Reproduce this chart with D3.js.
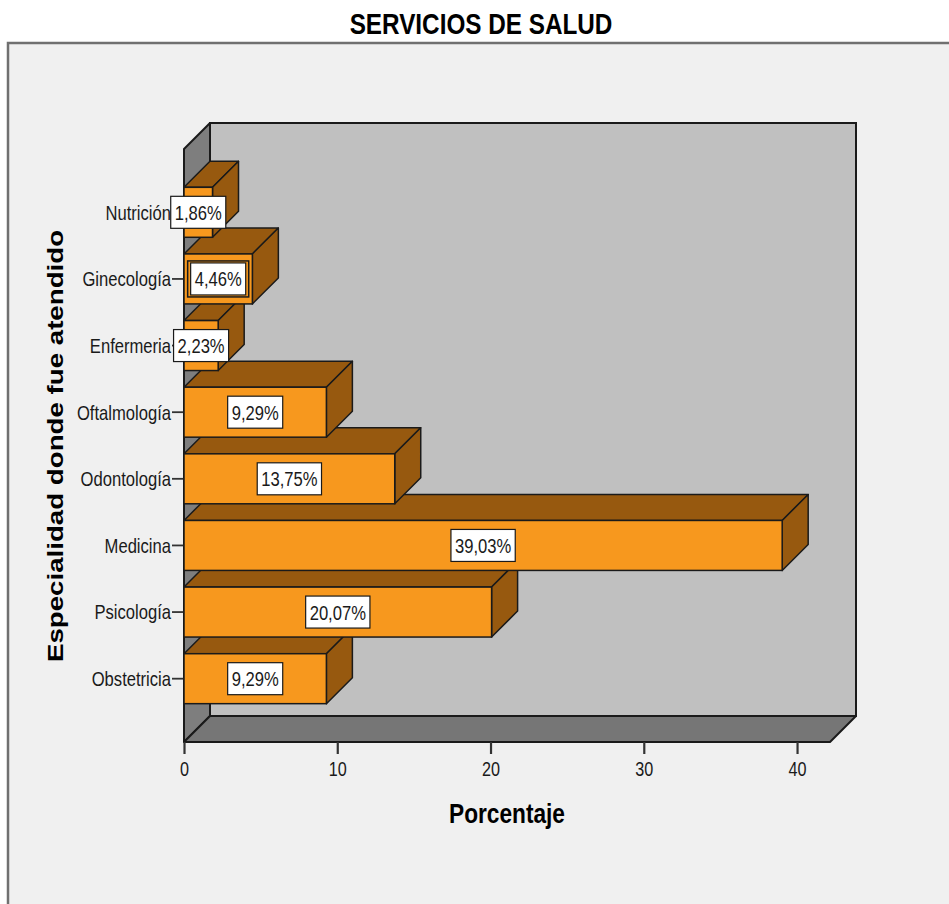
<!DOCTYPE html>
<html>
<head>
<meta charset="utf-8">
<script src="https://cdn.jsdelivr.net/npm/d3@7"></script>
<style>
  html, body { margin: 0; padding: 0; background: #ffffff; }
  svg { display: block; }
  text { font-family: "Liberation Sans", Arial, sans-serif; fill: #1a1a1a; }
</style>
</head>
<body>
<svg id="chart" width="949" height="904"></svg>
<script>
// Servicios de salud: porcentaje de atenciones por especialidad
const categories = ["Nutrición", "Ginecología", "Enfermeria", "Oftalmología",
                    "Odontología", "Medicina", "Psicología", "Obstetricia"];
const percentages = [1.86, 4.46, 2.23, 9.29, 13.75, 39.03, 20.07, 9.29];
const valueLabels = ["1,86%", "4,46%", "2,23%", "9,29%", "13,75%", "39,03%", "20,07%", "9,29%"];
const xTickValues = [0, 10, 20, 30, 40];
const highlighted = ["Ginecología"];

const chartTitle = "SERVICIOS DE SALUD";
const xTitle = "Porcentaje";
const yTitle = "Especialidad donde fue atendido";

const data = categories.map((c, i) => ({ cat: c, value: percentages[i], label: valueLabels[i] }));

const svg = d3.select("#chart");
const W = 949, H = 904;

// narrow text rendering (condensed glyphs)
const SX = 0.81;

// colours
const ORANGE = "#F7981E", BROWN = "#97590F";
const WALL_BACK = "#C0C0C0", WALL_SIDE = "#7E7E7E", FLOOR = "#767676";
const INK = "#1a1a1a";

// front plane of the 3D box
const plotLeft = 184, plotRight = 830, plotTop = 149, plotBottom = 742;
const D = 26; // depth offset (right / up)

const x = d3.scaleLinear().domain([0, 42.15]).range([plotLeft, plotRight]);
const y = d3.scaleBand().domain(categories).range([179, 712])
  .paddingInner(0.25).paddingOuter(0.125);

// chart frame
svg.append("rect").attr("x", 8).attr("y", 42).attr("width", W - 8).attr("height", H - 42)
  .attr("fill", "#F0F0F0");
svg.append("path")
  .attr("d", `M8,${H} L8,43 L${W},43`)
  .attr("fill", "none").attr("stroke", "#707070").attr("stroke-width", 2.5);

// title
svg.append("text")
  .attr("transform", `translate(481,34) scale(${SX},1)`)
  .attr("text-anchor", "middle")
  .style("font-size", "30px").style("font-weight", "bold").style("fill", "#000")
  .text(chartTitle);

const pt = p => p.map(d => d.join(",")).join(" ");

// back wall
svg.append("rect")
  .attr("x", plotLeft + D).attr("y", plotTop - D)
  .attr("width", plotRight - plotLeft).attr("height", plotBottom - plotTop)
  .attr("fill", WALL_BACK).attr("stroke", INK).attr("stroke-width", 2);

// left wall
svg.append("polygon")
  .attr("points", pt([[plotLeft, plotTop], [plotLeft + D, plotTop - D],
                      [plotLeft + D, plotBottom - D], [plotLeft, plotBottom]]))
  .attr("fill", WALL_SIDE).attr("stroke", INK).attr("stroke-width", 2)
  .attr("stroke-linejoin", "round");

// floor
svg.append("polygon")
  .attr("points", pt([[plotLeft, plotBottom], [plotRight, plotBottom],
                      [plotRight + D, plotBottom - D], [plotLeft + D, plotBottom - D]]))
  .attr("fill", FLOOR).attr("stroke", INK).attr("stroke-width", 2)
  .attr("stroke-linejoin", "round");

// x axis
const xAxis = svg.append("g")
  .attr("transform", `translate(0,${plotBottom})`)
  .call(d3.axisBottom(x).tickValues(xTickValues).tickSize(12).tickFormat(d3.format("d")));
xAxis.select(".domain").remove();
xAxis.selectAll(".tick line").attr("stroke", "#333").attr("stroke-width", 2.2);
xAxis.selectAll(".tick text")
  .attr("y", 0).attr("dy", 0)
  .attr("transform", `translate(0,34) scale(${SX},1)`)
  .style("font-size", "20px").style("font-family", "'Liberation Sans', Arial, sans-serif")
  .style("fill", INK);

// y axis
const yAxis = svg.append("g")
  .attr("transform", `translate(${plotLeft},0)`)
  .call(d3.axisLeft(y).tickSize(12));
yAxis.select(".domain").remove();
yAxis.selectAll(".tick line").attr("stroke", "#333").attr("stroke-width", 1.8);
yAxis.selectAll(".tick text")
  .attr("x", 0).attr("dy", "0.36em")
  .attr("transform", `translate(-13,0) scale(${SX},1)`)
  .style("font-size", "20.5px").style("font-family", "'Liberation Sans', Arial, sans-serif")
  .style("fill", INK);

// bars: drawn from the bottom category upward so upper bars overlap lower top faces
const bars = svg.append("g");
data.slice().reverse().forEach(d => {
  const g = bars.append("g");
  const x0 = x(0), x1 = x(d.value);
  const top = y(d.cat), bot = y(d.cat) + y.bandwidth();
  // top face
  g.append("polygon")
    .attr("points", pt([[x0, top], [x1, top], [x1 + D, top - D], [x0 + D, top - D]]))
    .attr("fill", BROWN).attr("stroke", INK).attr("stroke-width", 1.5).attr("stroke-linejoin", "round");
  // right face
  g.append("polygon")
    .attr("points", pt([[x1, top], [x1 + D, top - D], [x1 + D, bot - D], [x1, bot]]))
    .attr("fill", BROWN).attr("stroke", INK).attr("stroke-width", 1.5).attr("stroke-linejoin", "round");
  // front face
  g.append("rect")
    .attr("x", x0).attr("y", top).attr("width", x1 - x0).attr("height", bot - top)
    .attr("fill", ORANGE).attr("stroke", INK).attr("stroke-width", 1.5);
});

// value labels
const labels = svg.append("g");
data.forEach(d => {
  const cx = (x(0) + x(d.value)) / 2;
  const cy = y(d.cat) + y.bandwidth() / 2;
  const g = labels.append("g");
  const t = g.append("text")
    .attr("transform", `translate(${cx},${cy + 7.5}) scale(${SX},1)`)
    .attr("text-anchor", "middle")
    .style("font-size", "20.5px")
    .text(d.label);
  const w = t.node().getComputedTextLength() * SX + 8;
  const h = 32;
  if (highlighted.includes(d.cat)) {
    g.insert("rect", "text")
      .attr("x", cx - w / 2 - 3).attr("y", cy - h / 2 - 2)
      .attr("width", w + 6).attr("height", h + 4)
      .attr("fill", ORANGE).attr("stroke", INK).attr("stroke-width", 1.5);
  }
  g.insert("rect", "text")
    .attr("x", cx - w / 2).attr("y", cy - h / 2)
    .attr("width", w).attr("height", h)
    .attr("fill", "#fff").attr("stroke", INK).attr("stroke-width", 1.2);
});

// axis titles
svg.append("text")
  .attr("transform", `translate(507,823) scale(${SX},1)`)
  .attr("text-anchor", "middle")
  .style("font-size", "28px").style("font-weight", "bold").style("fill", "#000")
  .text(xTitle);

svg.append("text")
  .attr("transform", `translate(63,446) rotate(-90) scale(1,${SX})`)
  .attr("text-anchor", "middle")
  .style("font-size", "27.7px").style("font-weight", "bold").style("fill", "#000")
  .text(yTitle);
</script>
</body>
</html>
